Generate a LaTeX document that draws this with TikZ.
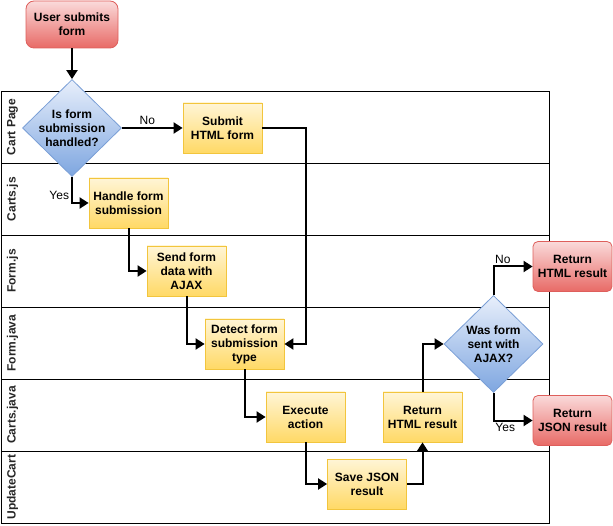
\documentclass[tikz,border=0pt]{standalone}
\usepackage{fontspec}
\setmainfont{Liberation Sans}
\usetikzlibrary{arrows.meta,shapes.geometric,positioning}
\definecolor{procTop}{HTML}{FFF5D6}
\definecolor{procBot}{HTML}{FFD966}
\definecolor{procLine}{HTML}{F2C53D}
\definecolor{termTop}{HTML}{FADADA}
\definecolor{termBot}{HTML}{E86A66}
\definecolor{termLine}{HTML}{DE5F5C}
\definecolor{decTop}{HTML}{E8EFFB}
\definecolor{decBot}{HTML}{7EA6E0}
\definecolor{decLine}{HTML}{7A9FD6}
\tikzset{
    % yellow process step
    process/.style={
        rectangle, draw=procLine, top color=procTop, bottom color=procBot,
        minimum width=79pt, minimum height=50pt, inner sep=0pt,
        align=center, font=\fontsize{12}{14}\selectfont\bfseries, line width=0.8pt
    },
    % red start / end
    terminal/.style={
        process, draw=termLine, top color=termTop, bottom color=termBot,
        rounded corners=5pt
    },
    % blue decision, text put in as centre label
    decision/.style={
        diamond, draw=decLine, top color=decTop, bottom color=decBot,
        minimum width=99pt, minimum height=97pt, inner sep=0pt, line width=0.8pt
    },
    dtext/.style={align=center, font=\fontsize{12}{14}\selectfont\bfseries},
}
\tikzset{
    % connectors
    flow/.style={line width=2pt, -{Triangle[length=9pt,width=11pt]}},
    lbl/.style={font=\fontsize{12}{14}\selectfont, inner sep=2pt},
    % swimlanes
    lane/.style={draw, line width=0.9pt, minimum width=548pt, minimum height=72pt, inner sep=0pt},
    lanelabel/.style={rotate=90, font=\fontsize{12}{14}\selectfont\bfseries, text=black!85},
}
\begin{document}
\begin{tikzpicture}[x=1pt,y=-1pt]
  \useasboundingbox (0,0) rectangle (613,526);

  % lanes
  \foreach \lname [count=\i] in {Cart Page,Carts.js,Form.js,Form.java,Carts.java,UpdateCart} {
    \node[lane] (lane\i) at (275,{55+72*\i}) {};
    \node[lanelabel] (lanelbl\i) at (12.5,{55+72*\i}) {\lname};
  }

  % start and first decision
  \node[terminal,minimum width=92pt,minimum height=47pt,rounded corners=8pt] (start) at (72,24.5) {User submits\\form};
  \node[decision,label={[dtext]center:Is form\\submission\\handled?}] (handled) at (72,128) {};

  % client side
  \node[process] (submit) at (222.5,128) {Submit\\HTML form};
  \node[process] (handle) at (128.5,203) {Handle form\\submission};
  \node[process] (send) at (186.5,271) {Send form\\data with\\AJAX};

  % server side
  \node[process] (detect) at (244.5,344) {Detect form\\submission\\type};
  \node[process] (exec) at (305.5,417) {Execute\\action};
  \node[process] (save) at (367,484) {Save JSON\\result};
  \node[process] (rethtml) at (422.5,417) {Return\\HTML result};
  \node[decision,label={[dtext]center:Was form\\sent with\\AJAX?}] (ajax) at (493.5,344) {};

  % results
  \node[terminal] (outhtml) at (572.5,266.5) {Return\\HTML result};
  \node[terminal] (outjson) at (572.5,420.5) {Return\\JSON result};

  % connectors
  \draw[flow] (start) -- (handled);
  \draw[flow] (handled) -- node[lbl,above,pos=0.42] {No} (submit);
  \draw[flow] (handled) |- node[lbl,left,pos=0.35] {Yes} (handle);
  \draw[flow] (submit.east) -| (detect.east -| exec) -- (detect.east);
  \draw[flow] (handle) |- (send);
  \draw[flow] (send) |- (detect);
  \draw[flow] (detect) |- (exec);
  \draw[flow] (exec) |- (save);
  \draw[flow] (save) -| (rethtml);
  \draw[flow] (rethtml) |- (ajax);
  \draw[flow] (ajax) |- node[lbl,above,pos=0.62] {No} (outhtml);
  \draw[flow] (ajax) |- node[lbl,below,pos=0.65] {Yes} (outjson);
\end{tikzpicture}
\end{document}
